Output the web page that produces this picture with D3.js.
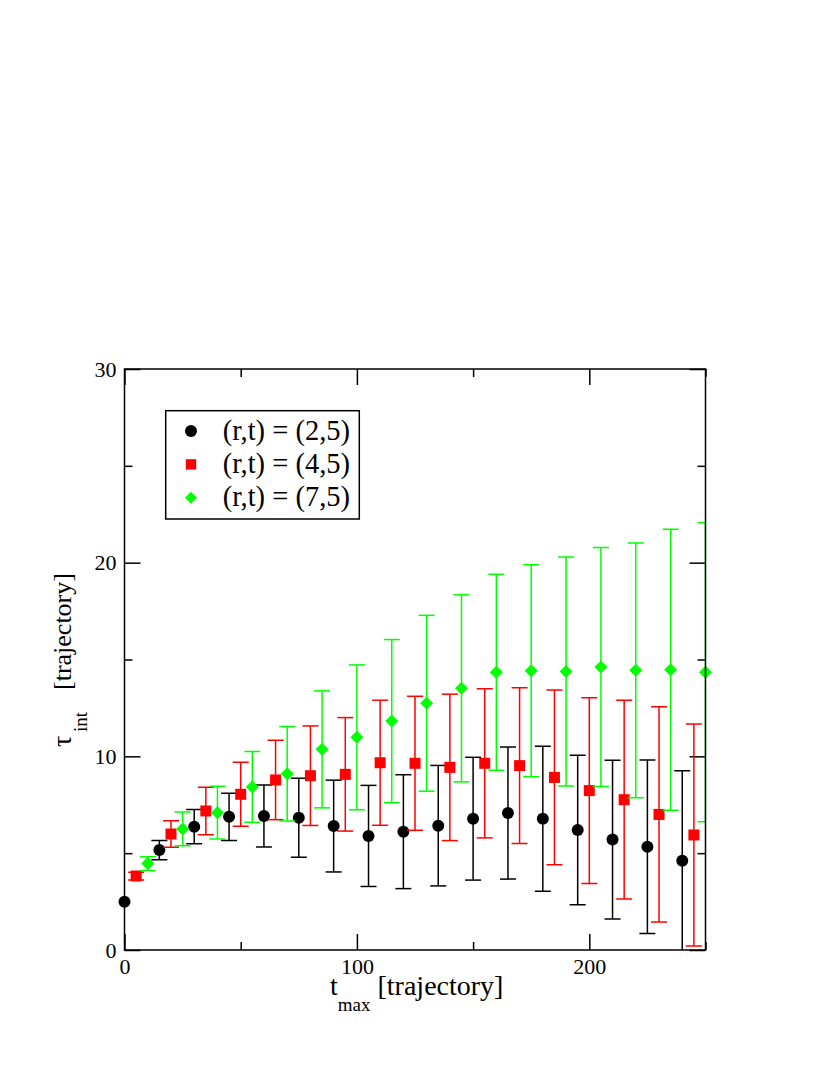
<!DOCTYPE html>
<html>
<head>
<meta charset="utf-8">
<script src="https://cdn.jsdelivr.net/npm/d3@7"></script>
<style>
  body { margin: 0; background: #fff; }
  text { font-family: "Liberation Serif", "Times New Roman", serif; }
</style>
</head>
<body>
<script>
// data (value and symmetric error)
var xBlack = [0, 15, 30, 45, 60, 75, 90, 105, 120, 135, 150, 165, 180, 195, 210, 225, 240];
var yBlack = [2.49, 5.16, 6.37, 6.88, 6.92, 6.83, 6.40, 5.89, 6.11, 6.42, 6.78, 7.07, 6.78, 6.20, 5.70, 5.33, 4.61];
var eBlack = [0, 0.50, 0.89, 1.22, 1.60, 2.04, 2.37, 2.61, 2.94, 3.11, 3.17, 3.41, 3.74, 3.86, 4.10, 4.48, 4.65];

var xRed = [5, 20, 35, 50, 65, 80, 95, 110, 125, 140, 155, 170, 185, 200, 215, 230, 245];
var yRed = [3.82, 5.99, 7.18, 8.04, 8.78, 9.00, 9.07, 9.67, 9.64, 9.43, 9.64, 9.52, 8.91, 8.23, 7.76, 7.00, 5.94];
var eRed = [0.20, 0.69, 1.23, 1.65, 2.05, 2.57, 2.93, 3.23, 3.46, 3.78, 3.85, 4.02, 4.51, 4.79, 5.13, 5.56, 5.73];

var xGreen = [10, 25, 40, 55, 70, 85, 100, 115, 130, 145, 160, 175, 190, 205, 220, 235, 250];
var yGreen = [4.46, 6.25, 7.09, 8.42, 9.10, 10.36, 10.98, 11.82, 12.74, 13.51, 14.34, 14.42, 14.38, 14.61, 14.44, 14.47, 14.34];
var eGreen = [0.36, 0.87, 1.36, 1.83, 2.44, 3.02, 3.74, 4.21, 4.54, 4.83, 5.06, 5.47, 5.91, 6.17, 6.58, 7.25, 7.72];

var seriesNames = ["(r,t) = (2,5)", "(r,t) = (4,5)", "(r,t) = (7,5)"];
var xMajor = [0, 100, 200];
var xMinor = [50, 150, 250];
var yMajor = [0, 10, 20, 30];
var yMinor = [5, 15, 25];

var pLeft = 124.5, pRight = 705.5, pTop = 369, pBottom = 950;

var svg = d3.select("body")
  .append("svg")
  .attr("width", 830)
  .attr("height", 1075);

var x = d3.scaleLinear().domain([0, 250]).range([pLeft, pRight]);
var y = d3.scaleLinear().domain([0, 30]).range([pBottom, pTop]);

svg.append("clipPath")
  .attr("id", "plot")
  .append("rect")
  .attr("x", pLeft)
  .attr("y", pTop)
  .attr("width", pRight - pLeft)
  .attr("height", pBottom - pTop);

// ticks on all four sides, pointing inward
function ticks(axis, vals, size, tr, labels) {
  var g = svg.append("g")
    .attr("transform", tr)
    .call(axis.tickValues(vals).tickSize(-size).tickPadding(8)
      .tickFormat(labels ? d3.format("d") : ""));
  g.select(".domain").remove();
  g.selectAll("line").attr("stroke", "black").attr("stroke-width", 1.5);
  g.selectAll("text").attr("font-size", 22).attr("fill", "black")
    .attr("font-family", "Liberation Serif");
}
ticks(d3.axisBottom(x), xMajor, 16, "translate(0," + pBottom + ")", true);
ticks(d3.axisBottom(x), xMinor, 8, "translate(0," + pBottom + ")", false);
ticks(d3.axisTop(x), xMajor, 16, "translate(0," + pTop + ")", false);
ticks(d3.axisTop(x), xMinor, 8, "translate(0," + pTop + ")", false);
ticks(d3.axisLeft(y), yMajor, 16, "translate(" + pLeft + ",0)", true);
ticks(d3.axisLeft(y), yMinor, 8, "translate(" + pLeft + ",0)", false);
ticks(d3.axisRight(y), yMajor, 16, "translate(" + pRight + ",0)", false);
ticks(d3.axisRight(y), yMinor, 8, "translate(" + pRight + ",0)", false);

//drawing one series: error bars then symbols
function series(xs, ys, es, color, shape) {
  var pts = xs.map(function (d, i) { return { x: d, y: ys[i], e: es[i] }; });
  var eb = svg.append("g")
    .attr("clip-path", "url(#plot)")
    .attr("stroke", color)
    .attr("stroke-width", 1.5);
  pts.forEach(function (p) {
    if (p.e <= 0) return;
    var cx = x(p.x), y1 = y(p.y + p.e), y2 = y(p.y - p.e);
    eb.append("line").attr("x1", cx).attr("x2", cx).attr("y1", y1).attr("y2", y2);
    eb.append("line").attr("x1", cx - 8).attr("x2", cx + 8).attr("y1", y1).attr("y2", y1);
    eb.append("line").attr("x1", cx - 8).attr("x2", cx + 8).attr("y1", y2).attr("y2", y2);
  });
  svg.append("g")
    .selectAll("path")
    .data(pts)
    .enter()
    .append("path")
    .attr("d", shape)
    .attr("transform", function (p) { return "translate(" + x(p.x) + "," + y(p.y) + ")"; })
    .attr("fill", color);
}

var circle = d3.symbol().type(d3.symbolCircle).size(Math.PI * 36)();
var square = d3.symbol().type(d3.symbolSquare).size(121)();
var diamond = "M0,-6.5L6.5,0L0,6.5L-6.5,0Z";

series(xBlack, yBlack, eBlack, "black", circle);
series(xRed, yRed, eRed, "#ff0000", square);
series(xGreen, yGreen, eGreen, "#00ff00", diamond);

// frame
svg.append("rect")
  .attr("x", pLeft)
  .attr("y", pTop)
  .attr("width", pRight - pLeft)
  .attr("height", pBottom - pTop)
  .attr("fill", "none")
  .attr("stroke", "black")
  .attr("stroke-width", 1.5);

// legend
svg.append("rect")
  .attr("x", 165.7)
  .attr("y", 410.7)
  .attr("width", 193.6)
  .attr("height", 108.3)
  .attr("fill", "white")
  .attr("stroke", "black")
  .attr("stroke-width", 1.5);

var legendShapes = [circle, "M-5.2,-5.2H5.2V5.2H-5.2Z", "M0,-6L6,0L0,6L-6,0Z"];
var legendColors = ["black", "#ff0000", "#00ff00"];
seriesNames.forEach(function (name, i) {
  var ly = 431 + i * 33.4;
  svg.append("path")
    .attr("d", legendShapes[i])
    .attr("transform", "translate(191," + ly + ")")
    .attr("fill", legendColors[i]);
  svg.append("text")
    .attr("x", 222.7)
    .attr("y", ly + 8.5)
    .attr("font-size", 28.5)
    .text(name);
});

// axis titles
var xt = svg.append("text")
  .attr("x", 330)
  .attr("y", 995)
  .attr("font-size", 28);
xt.append("tspan").text("t");
xt.append("tspan").attr("dy", 16).attr("font-size", 19).text("max");
xt.append("tspan").attr("dy", -16).text("\u00a0[trajectory]");

var yt = svg.append("g")
  .attr("transform", "translate(71,747) rotate(-90)");
yt.append("text").attr("x", 0).attr("y", 0).attr("font-size", 28).text("\u03c4");
yt.append("text").attr("x", 15).attr("y", 16).attr("font-size", 19).text("int");
yt.append("text").attr("x", 57).attr("y", 0).attr("font-size", 26).text("[trajectory]");
</script>
</body>
</html>
